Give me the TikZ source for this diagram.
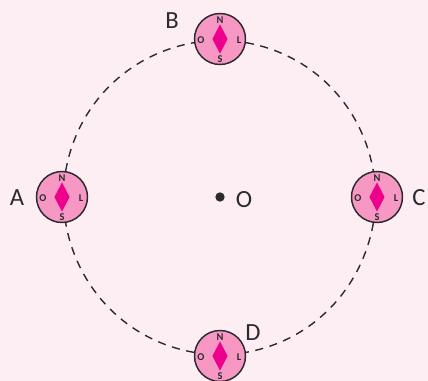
\documentclass[tikz,border=0pt]{standalone}
\usepackage{fontspec}
\setmainfont{Carlito}
\usetikzlibrary{shapes.geometric}
\definecolor{bgpink}{HTML}{FDEEF3}
\definecolor{discpink}{HTML}{F797C3}
\definecolor{diamondpink}{HTML}{EC008C}
\definecolor{inkdark}{HTML}{2B2A2E}
\tikzset{
  x=0.75pt,y=-0.75pt,
  disc/.style={circle,draw=inkdark,line width=1.1pt,fill=discpink,minimum size=38.25pt,inner sep=0pt},
  needle/.style={diamond,fill=diamondpink,inner sep=0pt,minimum width=11.5pt,minimum height=22pt,aspect=0.52},
  tinylabel/.style={font=\bfseries\fontsize{7.8}{8}\selectfont,text=inkdark,inner sep=0pt},
  biglabel/.style={font=\fontsize{18.5}{20}\selectfont,text=inkdark,inner sep=0pt},
  route/.style={draw=inkdark,line width=1.05pt,dash pattern=on 6pt off 5pt,looseness=0.95},
  compass/.pic={
    \node[disc] (-c) at (0,0) {};
    \node[needle] (-d) at (0,0) {};
    \node[tinylabel] (-n) at (0,-19) {N};
    \node[tinylabel] (-s) at (0,20) {S};
    \node[tinylabel] (-o) at (-19,1) {O};
    \node[tinylabel] (-l) at (19,1) {L};
  }
}
\begin{document}
\begin{tikzpicture}
\path[fill=bgpink] (0,0) rectangle (428,381);
\useasboundingbox (0,0) rectangle (428,381);
\clip (0,0) rectangle (428,381);
\pic (A) at (62,197) {compass};
\pic (B) at (220,39) {compass};
\pic (C) at (377,197) {compass};
\pic (D) at (220,356) {compass};
\draw[route] (A-c.82) to[out=80,in=-170] (B-c.188);
\draw[route] (B-c.-8) to[out=-10,in=100] (C-c.98);
\draw[route] (C-c.-98) to[out=-100,in=10] (D-c.8);
\draw[route] (D-c.172) to[out=170,in=-80] (A-c.-82);
\node[circle,fill=inkdark,minimum size=7pt,inner sep=0pt] (centre) at (220,197) {};
\node[biglabel] (lo) at (244,200) {O};
\node[biglabel] (la) at (17,198) {A};
\node[biglabel] (lb) at (172,21) {B};
\node[biglabel] (lc) at (419,198) {C};
\node[biglabel] (ld) at (253,333) {D};
\end{tikzpicture}
\end{document}
